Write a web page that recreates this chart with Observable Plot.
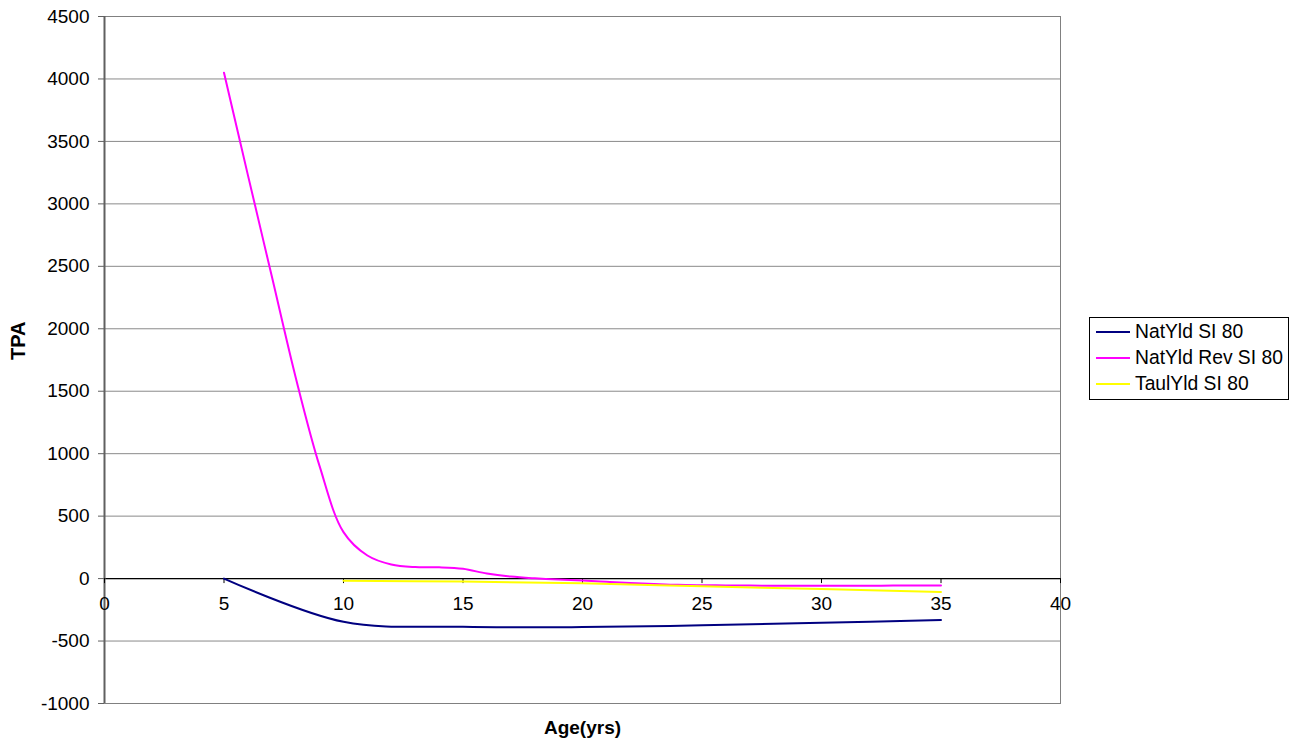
<!DOCTYPE html>
<html>
<head>
<meta charset="utf-8">
<script src="https://cdn.jsdelivr.net/npm/d3@7"></script>
<script src="https://cdn.jsdelivr.net/npm/@observablehq/plot@0.6"></script>
<style>
  body { margin: 0; background: #fff; font-family: "Liberation Sans", Arial, sans-serif; }
  #chart { position: relative; width: 1296px; height: 749px; }
  #legend {
    position: absolute; left: 1089px; top: 317px; width: 200px;
    border: 1px solid #000; box-sizing: border-box; padding: 1px 0 2px 0;
    font-size: 19.3px; color: #000; background: #fff;
  }
  #legend .row { display: flex; align-items: center; height: 26px; }
  #legend .swatch { width: 34px; height: 0; border-top: 2px solid; margin: 0 5px 0 6px; }
</style>
</head>
<body>
<div id="chart"></div>
<script>
// Tree counts per acre by stand age, site index 80
const natAges = [5, 10, 15, 20, 25, 30, 35];
const natYld = [0, -346, -386, -388, -374, -354, -332];

const revAges = [5, 6, 7, 8, 9, 10, 11, 12, 13, 14, 15, 16, 17, 18, 19, 20,
                 21, 22, 23, 24, 25, 26, 27, 28, 29, 30, 31, 32, 33, 34, 35];
const natYldRev = [4050, 3230, 2420, 1610, 900, 372, 185, 113, 92, 90, 78, 40, 16, 2, -8, -15,
                   -25, -35, -43, -50, -53, -55, -56, -57, -58, -58, -58, -57, -56, -55, -55];

const taulAges = [10, 15, 20, 25, 30, 35];
const taulYld = [-18, -24, -38, -62, -84, -108];

const seriesNames = ["NatYld SI 80", "NatYld Rev SI 80", "TaulYld SI 80"];
const seriesColors = ["#000080", "#FF00FF", "#FFFF00"];

const xTicks = [0, 5, 10, 15, 20, 25, 30, 35, 40];
const yTicks = [-1000, -500, 0, 500, 1000, 1500, 2000, 2500, 3000, 3500, 4000, 4500];

const xLabel = "Age(yrs)";
const yLabel = "TPA";

const toRows = (ages, vals) => ages.map((a, i) => ({age: a, tpa: vals[i]}));
const series = [
  toRows(natAges, natYld),
  toRows(revAges, natYldRev),
  toRows(taulAges, taulYld)
];

const W = 1296, H = 749;
const mL = 104, mR = 236, mT = 16, mB = 46;
const yDomain = [yTicks[0], yTicks[yTicks.length - 1]];
// pixel distance from the bottom of the frame up to the zero line, where the x axis sits
const yPix = d3.scaleLinear(yDomain, [H - mB, mT]);
const zeroShift = yPix(yDomain[0]) - yPix(0);

const chart = Plot.plot({
  width: W, height: H,
  marginLeft: mL, marginRight: mR, marginTop: mT, marginBottom: mB,
  style: {fontFamily: "'Liberation Sans', Arial, sans-serif", fontSize: "19px", color: "#000", background: "#fff", overflow: "visible"},
  x: {domain: [xTicks[0], xTicks[xTicks.length - 1]]},
  y: {domain: yDomain},
  marks: [
    Plot.gridY(yTicks, {stroke: "#8a8a8a", strokeOpacity: 1, strokeWidth: 1}),
    Plot.frame({stroke: "#808080"}),
    Plot.ruleY([0], {stroke: "#000", strokeWidth: 1.2}),
    Plot.ruleX([xTicks[0]], {stroke: "#606060", strokeWidth: 2}),
    Plot.axisY(yTicks, {anchor: "left", tickSize: 6, tickPadding: 9, stroke: "#606060", fill: "#000",
                        label: null, tickFormat: d => String(d)}),
    Plot.axisX(xTicks, {anchor: "bottom", dy: -zeroShift, tickSize: 5, tickPadding: 13,
                        stroke: "#000", fill: "#000", label: null, tickFormat: d => String(d)}),
    ...series.map((rows, i) => Plot.line(rows, {
      x: "age", y: "tpa", stroke: seriesColors[i], strokeWidth: 2, curve: "catmull-rom"
    })),
    Plot.text([yLabel], {text: d => d, frameAnchor: "left", dx: -86, rotate: -90,
                         fontWeight: "bold", fontSize: 20}),
    Plot.text([xLabel], {text: d => d, frameAnchor: "bottom", dy: 30,
                         fontWeight: "bold", fontSize: 19})
  ]
});

const host = document.getElementById("chart");
host.appendChild(chart);

// legend box on the right of the plot
const legend = document.createElement("div");
legend.id = "legend";
seriesNames.forEach((name, i) => {
  const row = document.createElement("div");
  row.className = "row";
  const sw = document.createElement("span");
  sw.className = "swatch";
  sw.style.borderTopColor = seriesColors[i];
  const label = document.createElement("span");
  label.textContent = name;
  row.appendChild(sw);
  row.appendChild(label);
  legend.appendChild(row);
});
host.appendChild(legend);
</script>
</body>
</html>
